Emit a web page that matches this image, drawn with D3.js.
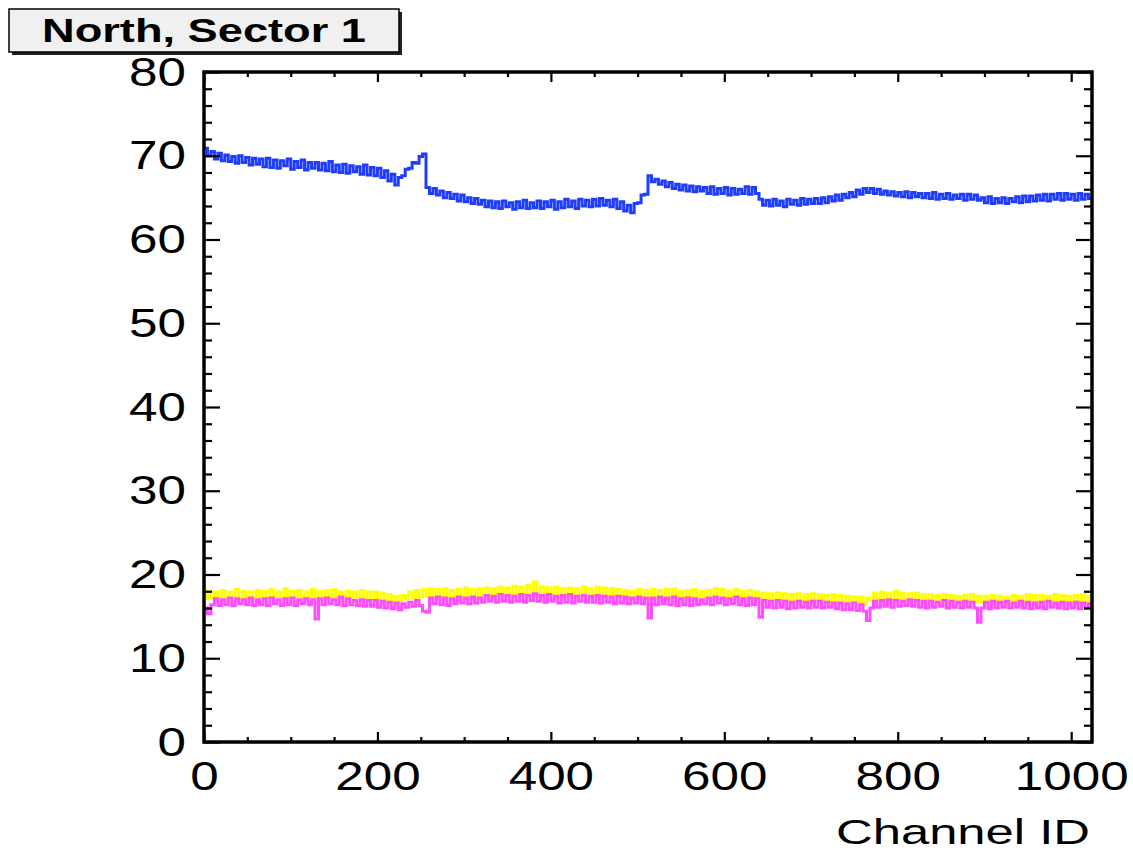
<!DOCTYPE html>
<html>
<head>
<meta charset="utf-8">
<script src="https://cdn.jsdelivr.net/npm/d3@7"></script>
<style>
  html, body { margin: 0; padding: 0; background: #fff; }
  svg { display: block; }
  text { font-family: "Liberation Sans", Arial, Helvetica, sans-serif; fill: #000; }
</style>
</head>
<body>
<svg id="chart" width="1133" height="852"></svg>
<script>
// ---------------- DATA ----------------
const title = "North, Sector 1";
const xTitle = "Channel ID";
const xDomain = [0, 1024];
const yDomain = [0, 80];
const binWidth = 4; // channels per drawn bin
const xMajorTicks = [0, 200, 400, 600, 800, 1000];
const yMajorTicks = [0, 10, 20, 30, 40, 50, 60, 70, 80];

const blueValues = [
  70.9, 70.0, 70.5, 69.6, 70.3, 69.4, 70.1, 69.3, 69.9, 69.1, 70.0, 69.2, 69.8, 68.9, 69.7, 69.0,
  69.6, 68.7, 69.7, 68.6, 69.5, 68.5, 69.4, 68.8, 69.6, 68.4, 69.3, 68.6, 69.5, 68.3, 69.2, 68.5,
  69.2, 68.3, 69.1, 68.2, 69.3, 68.1, 68.9, 68.0, 69.0, 67.9, 68.8, 68.1, 68.7, 67.8, 68.9, 67.7,
  68.6, 67.6, 68.5, 67.4, 68.2, 67.0, 67.8, 66.5, 67.4, 67.6, 68.4, 68.5, 69.2, 69.1, 69.9, 70.2,
  66.2, 65.5, 66.1, 65.3, 65.8, 65.0, 65.6, 64.9, 65.4, 64.6, 65.3, 64.5, 65.0, 64.3, 64.9, 64.2,
  64.7, 63.9, 64.6, 63.8, 64.5, 63.7, 64.6, 63.9, 64.4, 63.6, 64.5, 63.8, 64.7, 63.7, 64.4, 63.8,
  64.6, 63.7, 64.5, 63.9, 64.7, 63.6, 64.5, 63.8, 64.8, 63.9, 64.6, 63.7, 64.8, 64.0, 64.7, 63.9,
  64.8, 64.0, 64.9, 64.1, 64.7, 63.9, 64.8, 63.7, 64.5, 63.4, 64.1, 63.2, 64.3, 64.4, 65.3, 65.4,
  67.6, 66.9, 67.2, 66.6, 67.0, 66.3, 66.8, 66.1, 66.6, 65.9, 66.5, 65.8, 66.4, 65.7, 66.3, 65.8,
  66.2, 65.5, 66.3, 65.4, 66.1, 65.5, 66.2, 65.3, 66.1, 65.4, 66.0, 65.5, 66.3, 65.4, 66.2, 65.5,
  64.8, 64.1, 64.7, 64.0, 64.8, 64.1, 64.6, 63.9, 64.8, 64.2, 64.7, 64.1, 64.9, 64.2, 64.8, 64.3,
  64.9, 64.3, 65.0, 64.4, 65.1, 64.6, 65.3, 64.7, 65.4, 65.0, 65.6, 65.1, 65.9, 65.4, 66.1, 65.6,
  66.1, 65.5, 66.0, 65.4, 65.8, 65.3, 65.7, 65.2, 65.6, 65.1, 65.7, 65.0, 65.6, 65.1, 65.5, 65.0,
  65.5, 64.9, 65.6, 64.8, 65.4, 64.9, 65.5, 64.8, 65.3, 64.9, 65.4, 64.7, 65.4, 64.8, 65.3, 64.7,
  65.0, 64.4, 65.1, 64.3, 64.9, 64.4, 65.0, 64.3, 64.9, 64.5, 65.1, 64.4, 65.2, 64.5, 65.2, 64.6,
  65.3, 64.7, 65.4, 64.6, 65.4, 64.8, 65.5, 64.7, 65.5, 64.8, 65.4, 64.7, 65.5, 64.8, 65.4, 64.9
];

const yellowValues = [
  17.1, 18.0, 17.2, 17.9, 17.3, 18.1, 17.1, 17.9, 17.4, 18.2, 17.2, 18.0, 17.3, 17.9, 17.2, 18.1,
  17.3, 18.0, 17.2, 18.2, 17.4, 17.9, 17.2, 18.3, 17.3, 18.0, 17.4, 18.1, 17.2, 17.9, 17.3, 18.2,
  17.2, 18.0, 17.3, 18.1, 17.2, 18.2, 17.1, 17.9, 17.3, 18.0, 17.2, 17.9, 17.3, 18.1, 17.2, 17.9,
  17.1, 17.9, 17.0, 17.8, 16.9, 17.6, 16.7, 17.4, 16.8, 17.5, 17.1, 17.9, 17.2, 18.1, 17.3, 18.2,
  17.4, 18.3, 17.3, 18.2, 17.4, 18.3, 17.5, 18.1, 17.4, 18.2, 17.5, 18.4, 17.4, 18.2, 17.5, 18.3,
  17.5, 18.4, 17.4, 18.3, 17.6, 18.5, 17.5, 18.4, 17.7, 18.6, 17.6, 18.5, 17.7, 18.7, 17.8, 19.1,
  17.6, 18.5, 17.5, 18.4, 17.6, 18.5, 17.4, 18.3, 17.5, 18.4, 17.4, 18.3, 17.5, 18.5, 17.4, 18.3,
  17.5, 18.5, 17.4, 18.4, 17.3, 18.3, 17.4, 18.2, 17.3, 18.1, 17.2, 18.0, 17.4, 18.2, 17.3, 18.1,
  17.3, 18.2, 17.2, 18.1, 17.3, 18.2, 17.2, 18.3, 17.3, 18.0, 17.2, 18.1, 17.3, 18.2, 17.2, 18.0,
  17.3, 18.1, 17.4, 18.3, 17.3, 18.2, 17.2, 18.0, 17.3, 18.2, 17.2, 18.0, 17.3, 18.1, 17.2, 17.9,
  17.0, 17.8, 16.9, 17.7, 16.9, 17.8, 16.8, 17.7, 16.9, 17.6, 16.8, 17.7, 16.9, 17.6, 16.8, 17.7,
  16.9, 17.6, 16.8, 17.5, 16.8, 17.6, 16.7, 17.5, 16.6, 17.4, 16.6, 17.3, 16.5, 17.3, 16.4, 17.2,
  16.9, 17.8, 17.0, 17.9, 17.0, 17.8, 16.9, 18.0, 17.0, 17.8, 16.9, 17.7, 17.0, 17.8, 16.9, 17.6,
  16.8, 17.6, 16.9, 17.5, 16.8, 17.6, 16.7, 17.5, 16.8, 17.4, 16.7, 17.5, 16.8, 17.6, 16.7, 17.4,
  16.7, 17.4, 16.6, 17.5, 16.7, 17.4, 16.6, 17.3, 16.7, 17.5, 16.8, 17.4, 16.7, 17.6, 16.8, 17.5,
  16.8, 17.5, 16.7, 17.4, 16.8, 17.6, 16.7, 17.5, 16.8, 17.4, 16.7, 17.5, 16.8, 17.6, 16.7, 17.4
];

const magentaValues = [
  16.0, 15.3, 16.4, 17.1, 16.3, 17.0, 16.4, 17.2, 16.3, 17.1, 16.5, 17.0, 16.4, 17.2, 16.3, 17.0,
  16.4, 17.1, 16.3, 17.2, 16.5, 17.0, 16.3, 17.1, 16.4, 17.2, 16.3, 17.0, 16.5, 17.1, 16.4, 17.0,
  14.7, 17.1, 16.4, 17.2, 16.5, 17.0, 16.4, 17.3, 16.3, 17.1, 16.4, 16.9, 16.3, 17.0, 16.2, 16.9,
  16.2, 16.9, 16.1, 16.8, 16.0, 16.7, 15.9, 16.6, 15.8, 16.5, 16.1, 16.7, 16.2, 16.9, 16.3, 15.6,
  15.5, 17.2, 16.5, 17.3, 16.4, 17.2, 16.3, 17.1, 16.5, 17.3, 16.6, 17.2, 16.5, 17.3, 16.6, 17.2,
  16.7, 17.5, 16.8, 17.4, 16.7, 17.6, 16.8, 17.5, 16.7, 17.4, 16.8, 17.6, 16.7, 17.5, 16.9, 17.7,
  16.8, 17.5, 16.7, 17.6, 16.8, 17.4, 16.6, 17.5, 16.7, 17.6, 16.6, 17.4, 16.8, 17.5, 16.7, 17.4,
  16.7, 17.5, 16.6, 17.4, 16.7, 17.3, 16.5, 17.4, 16.6, 17.3, 16.5, 17.2, 16.6, 17.3, 16.5, 17.2,
  14.8, 17.2, 16.4, 17.3, 16.5, 17.2, 16.4, 17.3, 16.3, 17.1, 16.4, 17.2, 16.3, 17.1, 16.4, 17.0,
  16.5, 17.2, 16.4, 17.3, 16.6, 17.2, 16.4, 17.1, 16.5, 17.3, 16.4, 17.1, 16.3, 17.2, 16.4, 17.1,
  14.9, 16.9, 16.1, 16.8, 16.0, 16.9, 16.1, 16.8, 15.9, 16.7, 16.0, 16.8, 16.1, 16.7, 16.0, 16.8,
  16.1, 16.8, 16.0, 16.7, 16.1, 16.6, 15.9, 16.6, 15.8, 16.5, 15.8, 16.6, 15.7, 16.4, 15.6, 14.5,
  16.0, 16.8, 16.1, 16.9, 16.2, 17.0, 16.1, 16.9, 16.2, 16.8, 16.3, 17.0, 16.2, 16.9, 16.1, 16.8,
  16.0, 16.8, 16.1, 16.7, 16.2, 16.9, 16.0, 16.8, 16.1, 16.7, 16.0, 16.8, 16.1, 16.7, 16.0, 14.3,
  16.0, 16.7, 15.9, 16.8, 16.0, 16.7, 16.1, 16.8, 16.0, 16.6, 16.1, 16.8, 16.0, 16.7, 15.9, 16.6,
  16.0, 16.7, 15.9, 16.8, 16.1, 16.6, 16.0, 16.7, 15.9, 16.6, 16.0, 16.7, 15.9, 16.6, 16.0, 16.5
];

const seriesList = [
  { name: "blue", values: blueValues, color: "#1f3dff" },
  { name: "yellow", values: yellowValues, color: "#ffff00" },
  { name: "magenta", values: magentaValues, color: "#ff4cff" }
];

// ---------------- LAYOUT ----------------
const svg = d3.select("#chart");
const frame = { left: 204, right: 1092, top: 72, bottom: 742 };
const x = d3.scaleLinear().domain(xDomain).range([frame.left, frame.right]);
const y = d3.scaleLinear().domain(yDomain).range([frame.bottom, frame.top]);
const digitStretch = 1.28;

svg.append("rect").attr("width", 1133).attr("height", 852).attr("fill", "#fff");

// ---------------- SERIES (step histograms) ----------------
const stepLine = d3.line()
  .x(d => x(d[0]))
  .y(d => y(d[1]))
  .curve(d3.curveStepAfter);

svg.append("clipPath").attr("id", "clip")
  .append("rect")
  .attr("x", frame.left).attr("y", frame.top)
  .attr("width", frame.right - frame.left).attr("height", frame.bottom - frame.top);
const plot = svg.append("g").attr("clip-path", "url(#clip)");

seriesList.forEach(s => {
  const pts = s.values.map((v, i) => [i * binWidth, v]);
  pts.push([xDomain[1], s.values[s.values.length - 1]]);
  plot.append("path")
    .datum(pts)
    .attr("fill", "none")
    .attr("stroke", s.color)
    .attr("stroke-width", 3)
    .attr("d", stepLine);
});

// ---------------- AXES ----------------
const xMinor = d3.range(0, 1024, 50).filter(v => !xMajorTicks.includes(v));
const yMinor = d3.range(0, 80, 2).filter(v => !yMajorTicks.includes(v));

function styleAxis(g) {
  g.select(".domain").remove();
  g.selectAll(".tick line").attr("stroke", "#000").attr("stroke-width", 2.2);
}

// bottom
svg.append("g").attr("transform", `translate(0,${frame.bottom})`)
  .call(d3.axisBottom(x).tickValues(xMajorTicks).tickSize(-10).tickFormat(d3.format("d")))
  .call(styleAxis)
  .call(g => g.selectAll(".tick text")
    .attr("y", 48).attr("dy", 0)
    .attr("font-size", 40)
    .attr("text-anchor", "middle")
    .attr("transform", `scale(${digitStretch},1)`));
svg.append("g").attr("transform", `translate(0,${frame.bottom})`)
  .call(d3.axisBottom(x).tickValues(xMinor).tickSize(-5).tickFormat(""))
  .call(styleAxis);
// top
svg.append("g").attr("transform", `translate(0,${frame.top})`)
  .call(d3.axisTop(x).tickValues(xMajorTicks).tickSize(-10).tickFormat(""))
  .call(styleAxis);
svg.append("g").attr("transform", `translate(0,${frame.top})`)
  .call(d3.axisTop(x).tickValues(xMinor).tickSize(-5).tickFormat(""))
  .call(styleAxis);
// left
svg.append("g").attr("transform", `translate(${frame.left},0)`)
  .call(d3.axisLeft(y).tickValues(yMajorTicks).tickSize(-16).tickFormat(d3.format("d")))
  .call(styleAxis)
  .call(g => g.selectAll(".tick text")
    .attr("x", -18 / digitStretch).attr("dy", 0).attr("y", 13)
    .attr("font-size", 40)
    .attr("text-anchor", "end")
    .attr("transform", `scale(${digitStretch},1)`));
svg.append("g").attr("transform", `translate(${frame.left},0)`)
  .call(d3.axisLeft(y).tickValues(yMinor).tickSize(-8).tickFormat(""))
  .call(styleAxis);
// right
svg.append("g").attr("transform", `translate(${frame.right},0)`)
  .call(d3.axisRight(y).tickValues(yMajorTicks).tickSize(-16).tickFormat(""))
  .call(styleAxis);
svg.append("g").attr("transform", `translate(${frame.right},0)`)
  .call(d3.axisRight(y).tickValues(yMinor).tickSize(-8).tickFormat(""))
  .call(styleAxis);

// frame
svg.append("rect")
  .attr("x", frame.left).attr("y", frame.top)
  .attr("width", frame.right - frame.left).attr("height", frame.bottom - frame.top)
  .attr("fill", "none").attr("stroke", "#000").attr("stroke-width", 3.5);

// x title
svg.append("text")
  .attr("x", 1090).attr("y", 844)
  .attr("text-anchor", "end")
  .attr("font-size", 35)
  .attr("textLength", 254)
  .attr("lengthAdjust", "spacingAndGlyphs")
  .text(xTitle);

// ---------------- TITLE BOX ----------------
const tb = { x: 9, y: 9, w: 390, h: 43 };
svg.append("rect")
  .attr("x", tb.x + 3).attr("y", tb.y + 3).attr("width", tb.w).attr("height", tb.h)
  .attr("fill", "#222");
svg.append("rect")
  .attr("x", tb.x).attr("y", tb.y).attr("width", tb.w).attr("height", tb.h)
  .attr("fill", "#f0f0f0").attr("stroke", "#000").attr("stroke-width", 1.5);
svg.append("text")
  .attr("x", 42).attr("y", 42)
  .attr("font-size", 33).attr("font-weight", "bold")
  .attr("textLength", 324)
  .attr("lengthAdjust", "spacingAndGlyphs")
  .text(title);
</script>
</body>
</html>
